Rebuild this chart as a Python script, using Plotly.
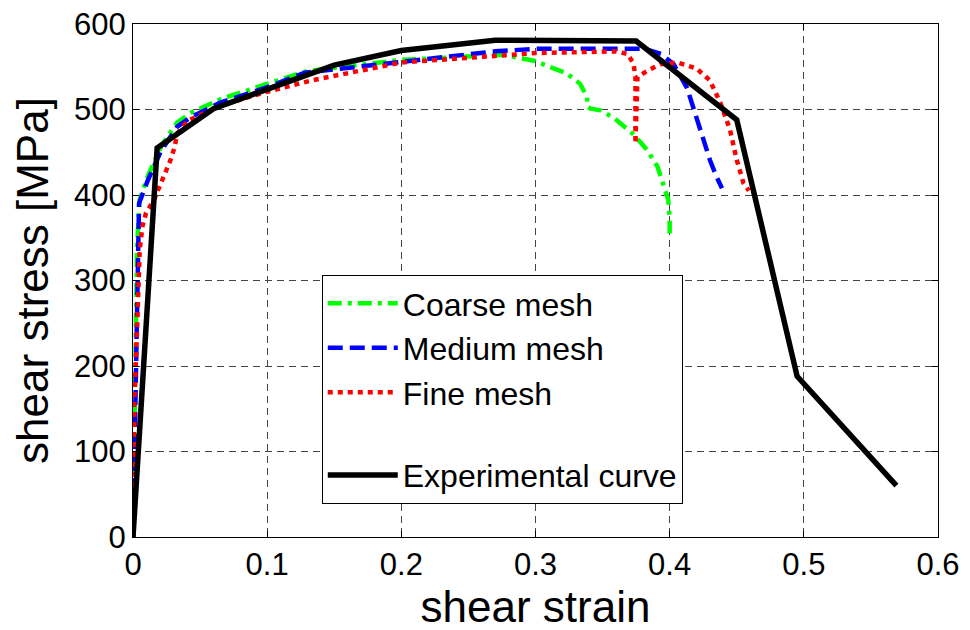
import plotly.graph_objects as go

# Experimental curve
x_exp = [0, 0.018, 0.06, 0.1, 0.15, 0.2, 0.25, 0.27, 0.375, 0.45, 0.495, 0.569]
y_exp = [0, 455, 501, 524, 552, 569, 578, 581, 580, 488, 188, 60]

# Coarse mesh
x_coarse = [0, 0.001, 0.002, 0.003, 0.005, 0.011, 0.021, 0.033, 0.043, 0.065, 0.098, 0.13,
            0.2, 0.25, 0.275, 0.299, 0.3235, 0.3333, 0.3383, 0.3388, 0.341, 0.3485, 0.3585,
            0.373, 0.383, 0.391, 0.395, 0.399, 0.4, 0.4]
y_coarse = [0, 120, 220, 340, 395, 422, 457, 485, 496, 512, 529, 545,
            558, 562, 564, 557, 542, 530, 515, 503, 501, 499, 490,
            471, 453, 433, 414, 394, 371, 355]

# Medium mesh
x_medium = [0, 0.001, 0.002, 0.003, 0.0045, 0.011, 0.021, 0.033, 0.043, 0.065, 0.098, 0.128,
            0.2, 0.27, 0.3, 0.37, 0.381, 0.3935, 0.403, 0.413, 0.42, 0.425, 0.43, 0.435, 0.439]
y_medium = [0, 100, 200, 300, 390, 417, 452, 480, 491, 508, 525, 543,
            556, 568, 571, 572, 571, 565, 553, 525, 490, 468, 441, 421, 408]

# Fine mesh
x_fine = [0, 0.001, 0.0025, 0.004, 0.005, 0.007, 0.0097, 0.0156, 0.023, 0.028, 0.031, 0.033,
          0.041, 0.066, 0.098, 0.133, 0.2, 0.25, 0.3, 0.36, 0.3686, 0.373, 0.3745, 0.3745,
          0.3745, 0.376, 0.383, 0.393, 0.406, 0.42, 0.43, 0.438, 0.445, 0.45, 0.455, 0.459]
y_fine = [0, 160, 219, 279, 336, 363, 379, 394, 421, 441, 456, 472,
          487, 505, 520, 534, 555, 561, 566, 568, 565, 554, 538, 507,
          460, 538, 545, 553, 555, 548, 534, 507, 476, 441, 414, 405]

x_ticks = [0, 0.1, 0.2, 0.3, 0.4, 0.5, 0.6]
x_tick_labels = ["0", "0.1", "0.2", "0.3", "0.4", "0.5", "0.6"]
y_ticks = [0, 100, 200, 300, 400, 500, 600]
y_tick_labels = ["0", "100", "200", "300", "400", "500", "600"]

FONT = "Liberation Sans, Arial, Helvetica, sans-serif"

fig = go.Figure()
fig.add_trace(go.Scatter(x=x_coarse, y=y_coarse, mode="lines", name="Coarse mesh",
                         legendgroup="sim",
                         line=dict(color="#00ff00", width=4.5, dash="14px,6px,4px,6px")))
fig.add_trace(go.Scatter(x=x_medium, y=y_medium, mode="lines", name="Medium mesh",
                         legendgroup="sim",
                         line=dict(color="#0000ff", width=4.5, dash="15px,7px")))
fig.add_trace(go.Scatter(x=x_fine, y=y_fine, mode="lines", name="Fine mesh",
                         legendgroup="sim",
                         line=dict(color="#ff0000", width=4.5, dash="5px,5px")))
fig.add_trace(go.Scatter(x=x_exp, y=y_exp, mode="lines", name="Experimental curve",
                         legendgroup="exp",
                         line=dict(color="#000000", width=5.5)))

axis_common = dict(
    showline=True, linecolor="black", linewidth=1, mirror="ticks",
    ticks="inside", ticklen=6, tickcolor="black",
    showgrid=True, gridcolor="#444444", gridwidth=1, griddash="7px,5px",
    zeroline=False, tickfont=dict(family=FONT, size=31, color="black"),
    ticklabeloverflow="allow",
)

fig.update_xaxes(range=[0, 0.6], tickvals=x_ticks, ticktext=x_tick_labels,
                 title=dict(text="shear strain", font=dict(family=FONT, size=44, color="black"),
                            standoff=6), **axis_common)
fig.update_yaxes(range=[0, 600], tickvals=y_ticks, ticktext=y_tick_labels, automargin=True,
                 title=dict(text="shear stress [MPa]", font=dict(family=FONT, size=44, color="black"),
                            standoff=25), **axis_common)

# the page body adds an 8px offset; margins compensate so the plot area lands where the reference has it
fig.update_layout(
    width=970, height=630,
    margin=dict(l=125, r=40, t=16, b=101, autoexpand=False),
    plot_bgcolor="white", paper_bgcolor="white",
    font=dict(family=FONT, color="black"),
    legend=dict(x=0.2345, y=0.511, xanchor="left", yanchor="top",
                bgcolor="white", bordercolor="black", borderwidth=1,
                font=dict(family=FONT, size=32, color="black"),
                itemwidth=70, tracegroupgap=38, traceorder="grouped"),
    showlegend=True,
)

fig.write_html("out.html")
